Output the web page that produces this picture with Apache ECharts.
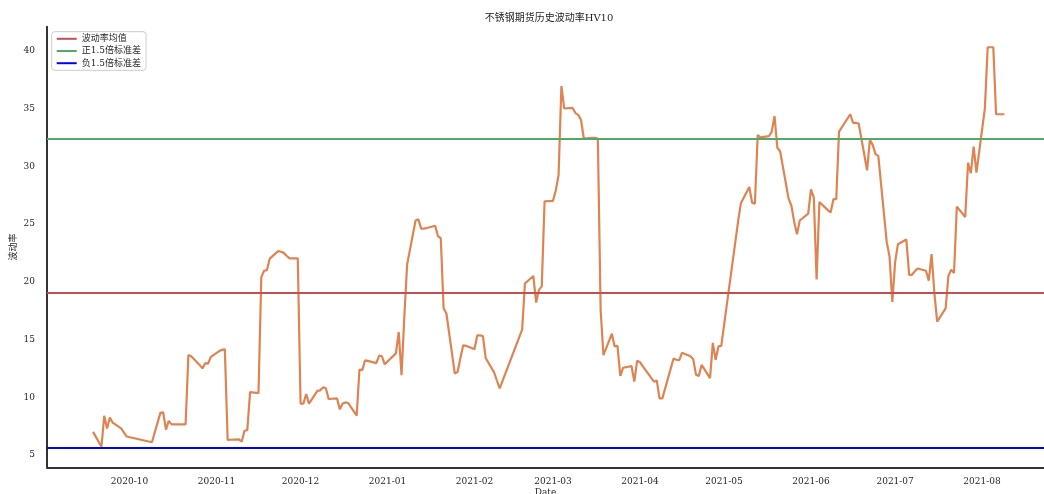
<!DOCTYPE html>
<html>
<head>
<meta charset="utf-8">
<script src="https://cdn.jsdelivr.net/npm/echarts@6/dist/echarts.min.js"></script>
<style>
html,body{margin:0;padding:0;background:#ffffff;}
#chart{width:1044px;height:494px;}
</style>
</head>
<body>
<div id="chart"></div>
<script>
// ---------- data ----------
const dates = [
'2020-09-18','2020-09-21','2020-09-22','2020-09-23','2020-09-24','2020-09-25','2020-09-28','2020-09-29','2020-09-30',
'2020-10-09','2020-10-12','2020-10-13','2020-10-14','2020-10-15','2020-10-16','2020-10-19','2020-10-20','2020-10-21',
'2020-10-22','2020-10-23','2020-10-26','2020-10-27','2020-10-28','2020-10-29','2020-10-30',
'2020-11-02','2020-11-03','2020-11-04','2020-11-05','2020-11-06','2020-11-09','2020-11-10','2020-11-11','2020-11-12',
'2020-11-13','2020-11-16','2020-11-17','2020-11-18','2020-11-19','2020-11-20','2020-11-23','2020-11-24','2020-11-25',
'2020-11-26','2020-11-27','2020-11-30',
'2020-12-01','2020-12-02','2020-12-03','2020-12-04','2020-12-07','2020-12-08','2020-12-09','2020-12-10','2020-12-11',
'2020-12-14','2020-12-15','2020-12-16','2020-12-17','2020-12-18','2020-12-21','2020-12-22','2020-12-23','2020-12-24',
'2020-12-25','2020-12-28','2020-12-29','2020-12-30','2020-12-31',
'2021-01-04','2021-01-05','2021-01-06','2021-01-07','2021-01-08','2021-01-11','2021-01-12','2021-01-13','2021-01-14',
'2021-01-15','2021-01-18','2021-01-19','2021-01-20','2021-01-21','2021-01-22','2021-01-25','2021-01-26','2021-01-27',
'2021-01-28','2021-01-29',
'2021-02-01','2021-02-02','2021-02-03','2021-02-04','2021-02-05','2021-02-08','2021-02-09','2021-02-10','2021-02-18',
'2021-02-19','2021-02-22','2021-02-23','2021-02-24','2021-02-25','2021-02-26',
'2021-03-01','2021-03-02','2021-03-03','2021-03-04','2021-03-05','2021-03-08','2021-03-09','2021-03-10','2021-03-11',
'2021-03-12','2021-03-15','2021-03-16','2021-03-17','2021-03-18','2021-03-19','2021-03-22','2021-03-23','2021-03-24',
'2021-03-25','2021-03-26','2021-03-29','2021-03-30','2021-03-31',
'2021-04-01','2021-04-02','2021-04-06','2021-04-07','2021-04-08','2021-04-09','2021-04-12','2021-04-13','2021-04-14',
'2021-04-15','2021-04-16','2021-04-19','2021-04-20','2021-04-21','2021-04-22','2021-04-23','2021-04-26','2021-04-27',
'2021-04-28','2021-04-29','2021-04-30',
'2021-05-06','2021-05-07','2021-05-10','2021-05-11','2021-05-12','2021-05-13','2021-05-14','2021-05-17','2021-05-18',
'2021-05-19','2021-05-20','2021-05-21','2021-05-24','2021-05-25','2021-05-26','2021-05-27','2021-05-28','2021-05-31',
'2021-06-01','2021-06-02','2021-06-03','2021-06-04','2021-06-07','2021-06-08','2021-06-09','2021-06-10','2021-06-11',
'2021-06-15','2021-06-16','2021-06-17','2021-06-18','2021-06-21','2021-06-22','2021-06-23','2021-06-24','2021-06-25',
'2021-06-28','2021-06-29','2021-06-30',
'2021-07-01','2021-07-02','2021-07-05','2021-07-06','2021-07-07','2021-07-08','2021-07-09','2021-07-12','2021-07-13',
'2021-07-14','2021-07-15','2021-07-16','2021-07-19','2021-07-20','2021-07-21','2021-07-22','2021-07-23','2021-07-26',
'2021-07-27','2021-07-28','2021-07-29','2021-07-30',
'2021-08-02','2021-08-03','2021-08-04','2021-08-05','2021-08-06','2021-08-09'
];
const hv10 = [
7.0,5.72,8.4,7.3,8.25,7.8,7.3,6.95,6.6,
6.1,8.65,8.7,7.2,7.95,7.65,7.65,7.65,7.65,
13.65,13.55,12.8,12.5,12.95,12.9,13.5,
14.0,14.1,14.15,6.3,6.32,6.35,6.15,7.1,7.15,
10.45,10.35,20.4,20.95,21.0,22.0,22.65,22.6,22.5,
22.25,22.03,22.03,
9.45,9.45,10.28,9.45,10.55,10.6,10.85,10.8,9.85,
9.9,8.95,9.45,9.55,9.5,8.4,12.4,12.35,13.2,
13.15,12.95,13.6,13.55,12.85,
13.8,15.65,11.9,17.0,21.5,25.3,25.4,24.6,24.6,
24.65,24.85,23.95,23.75,17.7,17.25,12.05,12.2,13.4,
14.5,14.45,
14.15,15.35,15.35,15.3,13.4,12.15,11.45,10.77,15.85,
19.85,20.5,18.2,19.3,19.6,26.95,
27.0,27.9,29.25,36.95,35.0,35.05,34.6,34.45,34.0,
32.4,32.45,32.45,32.4,17.5,13.65,15.5,14.4,14.45,
11.85,12.55,12.7,11.35,13.15,
13.05,12.7,11.35,11.45,9.9,9.9,12.5,13.35,13.25,
13.2,13.85,13.55,13.3,11.95,11.85,12.8,11.65,14.7,
13.25,14.4,14.45,
25.2,26.8,28.2,26.85,26.75,32.7,32.5,32.6,33.0,
34.35,31.6,31.3,27.2,26.6,25.2,24.1,25.3,25.9,
28.0,27.3,20.2,26.9,26.2,26.0,27.15,27.15,33.0,
34.5,33.75,33.75,33.7,29.65,32.3,31.85,31.05,30.9,
23.45,22.2,18.25,
21.7,23.25,23.65,20.6,20.6,20.9,21.15,20.95,20.1,
22.4,19.0,16.55,17.7,20.5,21.05,20.75,26.5,25.6,
30.3,29.4,31.7,29.45,
35.0,40.3,40.3,40.3,34.5,34.5
];
const meanValue = 19.05;   // 波动率均值
const upperValue = 32.38;  // 正1.5倍标准差
const lowerValue = 5.63;   // 负1.5倍标准差
const legendNames = ['波动率均值', '正1.5倍标准差', '负1.5倍标准差'];
const yTickValues = [5, 10, 15, 20, 25, 30, 35, 40];
const titleText = '不锈钢期货历史波动率HV10';

// ---------- helpers ----------
function toUTC(s) {
  const p = s.split('-').map(Number);
  return Date.UTC(p[0], p[1] - 1, p[2]);
}
const seriesData = dates.map((d, i) => [toUTC(d), hv10[i]]);
const FONT = "'DejaVu Serif', 'Noto Sans CJK SC', serif";
const TXT = '#262626';

function hLine(name, value, color, width) {
  return {
    type: 'line', name: name, data: [], symbol: 'none',
    itemStyle: { color: color }, lineStyle: { color: color, width: width },
    z: 3, silent: true, animation: false,
    markLine: {
      silent: true, symbol: ['none', 'none'], animation: false,
      label: { show: false },
      lineStyle: { color: color, width: width, type: 'solid' },
      emphasis: { disabled: true },
      data: [{ yAxis: value }]
    }
  };
}

const chart = echarts.init(document.getElementById('chart'), null, { renderer: 'canvas' });
chart.setOption({
  useUTC: true,
  animation: false,
  backgroundColor: '#ffffff',
  title: {
    text: titleText, left: 549, top: 13, textAlign: 'center', padding: 0,
    textStyle: { fontSize: 10, fontWeight: 'normal', color: TXT, fontFamily: FONT }
  },
  legend: {
    data: legendNames, orient: 'vertical', left: 51.7, top: 31.7,
    padding: [1, 5, 1, 5], itemWidth: 20, itemHeight: 2, itemGap: 0, icon: 'rect',
    borderColor: '#cccccc', borderWidth: 1, borderRadius: 3, backgroundColor: '#ffffff',
    selectedMode: false,
    textStyle: { fontSize: 9, lineHeight: 12.2, color: TXT, fontFamily: FONT }
  },
  grid: { left: 47, right: 0, top: 26.7, bottom: 26.7, containLabel: false, outerBoundsMode: 'none' },
  xAxis: {
    type: 'time',
    min: Date.UTC(2020, 8, 1, 14), max: Date.UTC(2021, 7, 23, 2),
    splitNumber: 12, minInterval: 28 * 864e5, maxInterval: 31 * 864e5,
    axisLine: { show: true, lineStyle: { color: '#333333', width: 2 } },
    axisTick: { show: false }, splitLine: { show: false },
    axisLabel: {
      color: TXT, fontSize: 9, fontFamily: FONT, margin: 10,
      showMinLabel: false, showMaxLabel: false, hideOverlap: false,
      formatter: function (v) {
        const d = new Date(v);
        if (d.getUTCDate() !== 1 || d.getUTCHours() !== 0) return '';
        const m = d.getUTCMonth() + 1;
        return d.getUTCFullYear() + '-' + (m < 10 ? '0' + m : m);
      }
    },
    name: 'Date', nameLocation: 'middle', nameGap: 21, nameMoveOverlap: false,
    nameTextStyle: { color: TXT, fontSize: 9, fontFamily: FONT }
  },
  yAxis: {
    type: 'value', min: 3.935, max: 42.08, splitNumber: 8, minInterval: 5, maxInterval: 5,
    axisLine: { show: true, lineStyle: { color: '#333333', width: 2 } },
    axisTick: { show: false }, splitLine: { show: false },
    axisLabel: {
      color: TXT, fontSize: 9, fontFamily: FONT, margin: 12,
      showMinLabel: false, showMaxLabel: false,
      formatter: function (v) {
        return yTickValues.some(t => Math.abs(t - v) < 1e-6) ? String(Math.round(v)) : '';
      }
    },
    name: '波动率', nameLocation: 'middle', nameGap: 29, nameRotate: 90, nameMoveOverlap: false,
    nameTextStyle: { color: TXT, fontSize: 9, fontFamily: FONT }
  },
  series: [
    {
      type: 'line', name: 'HV10', data: seriesData, symbol: 'none', showSymbol: false,
      lineStyle: { color: '#dd8452', width: 2.2 }, itemStyle: { color: '#dd8452' },
      z: 2, silent: true, animation: false
    },
    hLine(legendNames[0], meanValue, '#c44e52', 1.8),
    hLine(legendNames[1], upperValue, '#55a868', 1.8),
    hLine(legendNames[2], lowerValue, '#0000ff', 2.2)
  ]
});
</script>
</body>
</html>
